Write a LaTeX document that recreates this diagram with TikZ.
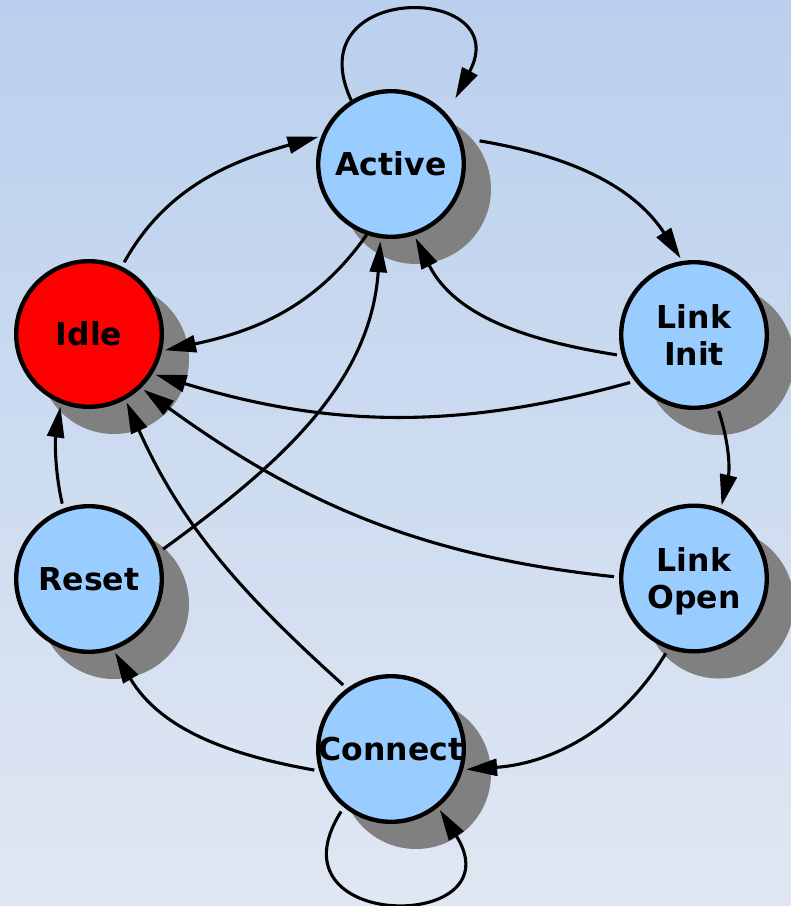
\documentclass[tikz,border=0pt]{standalone}
\usepackage{fontspec}
\setmainfont{DejaVu Sans}
\usetikzlibrary{arrows.meta,shadows}
\definecolor{bgtop}{RGB}{186,208,238}
\definecolor{bgmid}{RGB}{221,229,242}
\definecolor{bgbot}{RGB}{224,231,242}
\definecolor{statefill}{HTML}{99CCFF}
\definecolor{idlefill}{HTML}{FF0000}
\definecolor{shadowgray}{HTML}{808080}
\begin{document}
\begin{tikzpicture}[x=1pt,y=1pt,
  statebox/.style={circle, draw=black, line width=4.4pt, fill=statefill,
    minimum size=145.6pt, inner sep=0pt,
    drop shadow={shadow xshift=25pt, shadow yshift=-25pt, fill=shadowgray, draw=shadowgray, opacity=1}},
  statetext/.style={font=\fontsize{31.5}{37}\selectfont\bfseries, align=center,
    text depth=0pt, inner sep=0pt},
  trans/.style={line width=3.1pt, -{Triangle[length=31pt,width=17pt]},
    shorten <=5pt, shorten >=3pt}]
\useasboundingbox (0,0) rectangle (791,-906);
\shade[top color=bgtop, middle color=bgmid, bottom color=bgbot] (0,0) rectangle (791,-906);

% states
\node[statebox] (active) at (391,-164) {};
\node[statebox, fill=idlefill] (idle) at (89,-334) {};
\node[statebox] (linit) at (694,-335) {};
\node[statebox] (lopen) at (694,-578.5) {};
\node[statebox] (reset) at (89,-579) {};
\node[statebox] (connect) at (391,-749) {};

\node[statetext] (activet) at (active) {Active};
\node[statetext] (idlet) at (idle) {Idle};
\node[statetext] (linitt) at (linit) {Link\\Init};
\node[statetext] (lopent) at (lopen) {Link\\Open};
\node[statetext] (resett) at (reset) {Reset};
\node[statetext] (connectt) at (connect) {Connect};

% transitions
\draw[trans, shorten <=0pt] (active.122) .. controls +(115:133) and +(62:133) .. ([shift={(45:14)}]active.45);
\draw[trans] (idle.64) .. controls +(61:92) and +(195.7:92) .. (active.158);
\draw[trans, shorten <=0pt] (active.251) .. controls +(235:91) and +(12:91) .. (idle.347);
\draw[trans] ([shift={(16:12)}]active.16) .. controls +(-9.5:92) and +(123:92) .. (linit.99);
\draw[trans] (linit.196) .. controls +(171:92) and +(296.6:92) .. (active.288);
\draw[trans] (linit.218) .. controls +(195.5:184) and +(343:184) .. (idle.328);
\draw[trans] (linit.288) .. controls +(-72:40) and +(77:40) .. (lopen.69);
\draw[trans] (lopen.179) .. controls +(174:197) and +(324:197) .. (idle.314);
\draw[trans] (lopen.250) .. controls +(239:91) and +(4:91) .. (connect.344);
\draw[trans] (connect.126) .. controls +(138:139) and +(294:139) .. (idle.299.5);
\draw[trans] (connect.197) .. controls +(170:92) and +(300.6:92) .. (reset.289);
\draw[trans] (connect.231) .. controls +(237.6:149) and +(302.4:149) .. (connect.309);
\draw[trans] (reset.110) .. controls +(103:38) and +(261:38) .. (idle.248.6);
\draw[trans] (reset.21.4) .. controls +(36:147) and +(266:147) .. (active.262);
\end{tikzpicture}
\end{document}
